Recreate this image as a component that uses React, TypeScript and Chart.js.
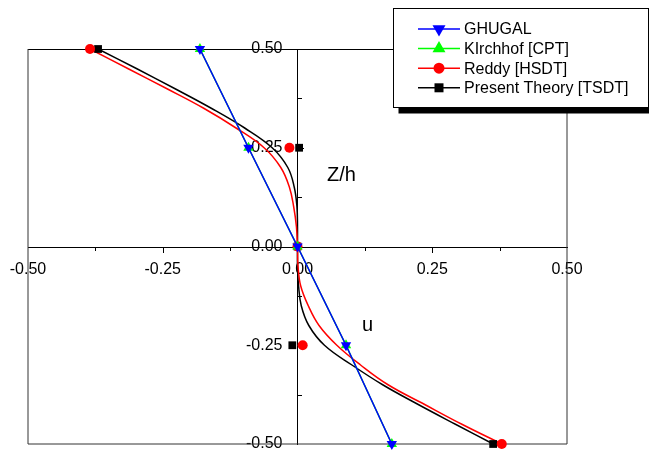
import React, { useEffect, useRef } from 'react';
import { Chart, registerables } from 'chart.js';

Chart.register(...registerables);

// ---- data ----
const zLevels = [0.5, 0.25, 0, -0.25, -0.5];
const ghugalU = [-0.181, -0.091, 0, 0.09, 0.175];
const kirchhofU = [-0.181, -0.091, 0, 0.09, 0.175];
const reddyU = [-0.385, -0.015, 0, 0.0096, 0.379];
const presentU = [-0.37, 0.003, 0, -0.0096, 0.363];

const curveZ = [0.5, 0.45, 0.4, 0.35, 0.3, 0.25, 0.2, 0.15, 0.1, 0.05, 0, -0.05, -0.1, -0.15, -0.2, -0.25, -0.3, -0.35, -0.4, -0.45, -0.5];
const reddyCurveU = [-0.385, -0.314, -0.243, -0.174, -0.114, -0.062, -0.031, -0.015, -0.007, -0.002, 0, 0.001, 0.006, 0.02, 0.04, 0.073, 0.117, 0.168, 0.236, 0.305, 0.379];
const presentCurveU = [-0.37, -0.298, -0.228, -0.16, -0.098, -0.047, -0.018, -0.006, -0.001, 0, 0, 0, 0.002, 0.007, 0.021, 0.05, 0.101, 0.158, 0.224, 0.293, 0.363];

const seriesNames = ['GHUGAL', 'KIrchhof [CPT]', 'Reddy [HSDT]', 'Present Theory [TSDT]'];
const seriesColors = ['#0000ff', '#00ff00', '#ff0000', '#000000'];
const majorTicks = [-0.25, 0.25];
const minorTicks = [-0.375, -0.125, 0.125, 0.375];
const axisMin = -0.5;
const axisMax = 0.5;
const tickStep = 0.25;

const FONT = "'Liberation Sans', Arial, sans-serif";

const pts = (u: number[], z: number[]) => u.map((v, i) => ({ x: v, y: z[i] }));

function drawMarker(ctx: CanvasRenderingContext2D, style: string, x: number, y: number, r: number, color: string) {
  ctx.save();
  ctx.fillStyle = color;
  ctx.beginPath();
  const s = Math.sin(Math.PI / 3) * r;
  if (style === 'triangleDown') {
    ctx.moveTo(x, y + r);
    ctx.lineTo(x - s, y - r / 2);
    ctx.lineTo(x + s, y - r / 2);
    ctx.closePath();
  } else if (style === 'triangle') {
    ctx.moveTo(x, y - r);
    ctx.lineTo(x - s, y + r / 2);
    ctx.lineTo(x + s, y + r / 2);
    ctx.closePath();
  } else if (style === 'circle') {
    ctx.arc(x, y, r, 0, Math.PI * 2);
  } else {
    ctx.rect(x - r, y - r, r * 2, r * 2);
  }
  ctx.fill();
  ctx.restore();
}

const decorPlugin = {
  id: 'decor',
  beforeDatasetsDraw(chart: any) {
    const { ctx, chartArea: a, scales } = chart;
    const xs = scales.x;
    const ys = scales.y;
    ctx.save();
    ctx.lineWidth = 1;
    ctx.strokeStyle = '#000';
    ctx.beginPath();
    ctx.moveTo(a.left, Math.round(a.top) + 0.5);
    ctx.lineTo(a.right, Math.round(a.top) + 0.5);
    ctx.stroke();
    ctx.strokeStyle = '#333';
    ctx.beginPath();
    ctx.moveTo(a.left, a.top);
    ctx.lineTo(a.left, a.bottom);
    ctx.lineTo(a.right, a.bottom);
    ctx.lineTo(a.right, a.top);
    ctx.stroke();
    const y0 = Math.round(ys.getPixelForValue(0));
    const x0 = Math.round(xs.getPixelForValue(0));
    ctx.strokeStyle = '#000';
    ctx.lineWidth = 1;
    ctx.beginPath();
    majorTicks.forEach((v) => {
      const px = Math.round(xs.getPixelForValue(v)) + 0.5;
      ctx.moveTo(px, y0);
      ctx.lineTo(px, y0 + 6);
      const py = Math.round(ys.getPixelForValue(v)) + 0.5;
      ctx.moveTo(x0, py);
      ctx.lineTo(x0 + 6, py);
    });
    minorTicks.forEach((v) => {
      const px = Math.round(xs.getPixelForValue(v)) + 0.5;
      ctx.moveTo(px, y0);
      ctx.lineTo(px, y0 + 4);
      const py = Math.round(ys.getPixelForValue(v)) + 0.5;
      ctx.moveTo(x0, py);
      ctx.lineTo(x0 + 4, py);
    });
    ctx.stroke();
    ctx.restore();
  },
  afterDraw(chart: any) {
    const { ctx, scales } = chart;
    const xs = scales.x;
    const ys = scales.y;
    ctx.save();
    ctx.fillStyle = '#000';
    ctx.font = `20px ${FONT}`;
    ctx.textAlign = 'left';
    ctx.textBaseline = 'alphabetic';
    ctx.fillText('Z/h', xs.getPixelForValue(0.0547), ys.getPixelForValue(0.1667));
    ctx.fillText('u', xs.getPixelForValue(0.1197), ys.getPixelForValue(-0.2146));

    const bx = 393.5, by = 8.5, bw = 255, bh = 99;
    ctx.fillStyle = '#000';
    ctx.fillRect(bx + 5, by + 5, bw + 10, bh + 1);
    ctx.fillStyle = '#fff';
    ctx.fillRect(bx, by, bw, bh);
    ctx.strokeStyle = '#000';
    ctx.lineWidth = 1;
    ctx.strokeRect(bx, by, bw, bh);

    const styles = ['triangleDown', 'triangle', 'circle', 'rect'];
    const sizes = [7.5, 7.5, 5.5, 4.5];
    ctx.font = `16px ${FONT}`;
    ctx.textBaseline = 'middle';
    seriesNames.forEach((name, i) => {
      const y = 29 + i * 19.6;
      ctx.strokeStyle = seriesColors[i];
      ctx.lineWidth = 1.5;
      ctx.beginPath();
      ctx.moveTo(418, y);
      ctx.lineTo(460, y);
      ctx.stroke();
      drawMarker(ctx, styles[i], 439, y, sizes[i], seriesColors[i]);
      ctx.fillStyle = '#000';
      ctx.fillText(name, 464, y + 1);
    });
    ctx.restore();
  },
};

export default function App() {
  const ref = useRef<HTMLCanvasElement | null>(null);

  useEffect(() => {
    if (!ref.current) return;
    const tickFont = { family: FONT, size: 16 };
    const zeroPad = (s: any) => {
      s.paddingLeft = 0;
      s.paddingRight = 0;
      s.paddingTop = 0;
      s.paddingBottom = 0;
    };
    const chart = new Chart(ref.current, {
      type: 'scatter',
      data: {
        datasets: [
          {
            label: seriesNames[0],
            data: pts(ghugalU, zLevels),
            showLine: true,
            borderColor: seriesColors[0],
            backgroundColor: seriesColors[0],
            borderWidth: 1.5,
            pointStyle: 'triangle',
            rotation: 180,
            pointRadius: 6,
            pointBorderWidth: 0,
            clip: false,
          },
          {
            label: seriesNames[1],
            data: pts(kirchhofU, zLevels),
            showLine: true,
            borderColor: seriesColors[1],
            backgroundColor: seriesColors[1],
            borderWidth: 1.5,
            pointStyle: 'triangle',
            pointRadius: 6,
            pointBorderWidth: 0,
            clip: false,
          },
          {
            label: seriesNames[2],
            data: pts(reddyU, zLevels),
            showLine: false,
            borderColor: seriesColors[2],
            backgroundColor: seriesColors[2],
            pointStyle: 'circle',
            pointRadius: 5,
            pointBorderWidth: 0,
            clip: false,
          },
          {
            label: seriesNames[3],
            data: pts(presentU, zLevels),
            showLine: false,
            borderColor: seriesColors[3],
            backgroundColor: seriesColors[3],
            pointStyle: 'rect',
            pointRadius: 5.5,
            pointBorderWidth: 0,
            clip: false,
          },
          {
            label: 'reddy-curve',
            data: pts(reddyCurveU, curveZ),
            showLine: true,
            borderColor: seriesColors[2],
            borderWidth: 1.5,
            pointRadius: 0,
            tension: 0.4,
            clip: false,
          },
          {
            label: 'present-curve',
            data: pts(presentCurveU, curveZ),
            showLine: true,
            borderColor: seriesColors[3],
            borderWidth: 1.5,
            pointRadius: 0,
            tension: 0.4,
            clip: false,
          },
        ],
      },
      options: {
        responsive: false,
        animation: false,
        devicePixelRatio: 1,
        layout: { padding: { left: 28, right: 82, top: 49, bottom: 5 } },
        plugins: { legend: { display: false }, tooltip: { enabled: false } },
        scales: {
          x: {
            type: 'linear',
            position: 'center',
            min: axisMin,
            max: axisMax,
            grid: { drawOnChartArea: false, drawTicks: false },
            border: { display: true, color: '#000', width: 1 },
            ticks: {
              stepSize: tickStep,
              autoSkip: false,
              maxRotation: 0,
              padding: 13,
              color: '#000',
              font: tickFont,
              callback: (v: any) => Number(v).toFixed(2),
            },
            afterFit: zeroPad,
          },
          y: {
            type: 'linear',
            position: 'center',
            min: axisMin,
            max: axisMax,
            grid: { drawOnChartArea: false, drawTicks: false },
            border: { display: true, color: '#000', width: 1 },
            ticks: {
              stepSize: tickStep,
              autoSkip: false,
              padding: 15,
              color: '#000',
              font: tickFont,
              callback: (v: any) => Number(v).toFixed(2),
            },
            afterFit: zeroPad,
          },
        },
      },
      plugins: [decorPlugin],
    } as any);
    return () => chart.destroy();
  }, []);

  return (
    <div style={{ position: 'fixed', left: 0, top: 0, width: 649, height: 450, background: '#fff' }}>
      <canvas ref={ref} width={649} height={450} style={{ display: 'block' }} />
    </div>
  );
}
